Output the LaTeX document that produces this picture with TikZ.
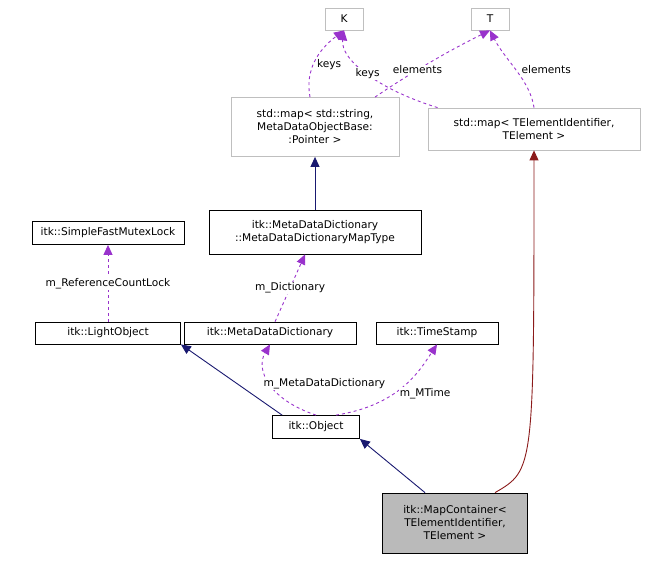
\documentclass[tikz,border=0pt]{standalone}
\usepackage{fontspec}
\setmainfont{DejaVu Sans}
\usetikzlibrary{arrows.meta}
\begin{document}
\begin{tikzpicture}[x=1pt,y=-1pt,
 box/.style={draw=black,fill=white,inner sep=2pt,font=\fontsize{10.6}{13}\selectfont,align=center,line width=0.8pt},
 gbox/.style={box,draw=black!25},
 inh/.style={draw={rgb,255:red,25;green,25;blue,112},-{Triangle[length=10pt,width=9pt]},line width=0.9pt},
 red/.style={draw={rgb,255:red,139;green,26;blue,26},-{Triangle[length=10pt,width=9pt]},line width=0.9pt},
 use/.style={draw={rgb,255:red,153;green,50;blue,204},dashed,-{Triangle[length=10pt,width=9pt]},line width=0.9pt},
 lab/.style={font=\fontsize{10.6}{13}\selectfont,fill=white,inner sep=1pt}]
\useasboundingbox (0,0) rectangle (647,560);
\node[gbox,minimum width=38,minimum height=22] (K) at (344,19) {K};
\node[gbox,minimum width=38,minimum height=22] (T) at (490,19) {T};
\node[gbox,minimum width=168,minimum height=59] (ms) at (315,127) {std::map< std::string,\\MetaDataObjectBase:\\:Pointer >};
\node[gbox,minimum width=212,minimum height=42] (mt) at (534,129) {std::map< TElementIdentifier,\\TElement >};
\node[box,minimum width=212,minimum height=44] (mdt) at (315,232) {itk::MetaDataDictionary\\::MetaDataDictionaryMapType};
\node[box,minimum width=152,minimum height=23] (mx) at (108,233) {itk::SimpleFastMutexLock};
\node[box,minimum width=145,minimum height=22] (lo) at (108,333) {itk::LightObject};
\node[box,minimum width=172,minimum height=22] (md) at (270,333) {itk::MetaDataDictionary};
\node[box,minimum width=122,minimum height=22] (ts) at (437,333) {itk::TimeStamp};
\node[box,minimum width=87,minimum height=23] (ob) at (316,427) {itk::Object};
\node[box,fill=black!27,minimum width=145,minimum height=60] (mc) at (455,523) {itk::MapContainer<\\TElementIdentifier,\\TElement >};

\draw[inh] (mdt) -- (ms);
\draw[inh] (ob.north west) ++(10,0) -- (lo.south east);
\draw[inh] (mc.north) ++(-30,0) -- (ob.south east);
\draw[red] (mc.north) ++(40,0) .. controls (534,470) .. (mt.south);

\draw[use] (lo) -- node[lab]{m\_ReferenceCountLock} (mx);
\draw[use] (md) -- node[lab]{m\_Dictionary} (mdt);
\draw[use] (ob.north) .. controls (270,400) and (255,370) .. node[lab,pos=0.5,anchor=west,xshift=-8]{m\_MetaDataDictionary} (md.south);
\draw[use] (ob.north) ++(20,0) .. controls (400,405) and (420,370) .. node[lab,pos=0.4,anchor=west,xshift=4]{m\_MTime} (ts.south);
\draw[use] (ms.north) ++(-5,0) .. controls (305,70) and (318,50) .. node[lab,pos=0.45,anchor=west,xshift=2]{keys} (K.south);
\draw[use] (ms.north) ++(60,0) .. controls (400,80) and (440,55) .. node[lab,pos=0.45]{elements} (T.south);
\draw[use] (mt.north west) ++(10,0) .. controls (380,90) and (340,60) .. node[lab,pos=0.5]{keys} (K.south);
\draw[use] (mt.north) .. controls (530,80) and (505,60) .. node[lab,pos=0.5,anchor=west,xshift=4]{elements} (T.south);
\end{tikzpicture}
\end{document}
